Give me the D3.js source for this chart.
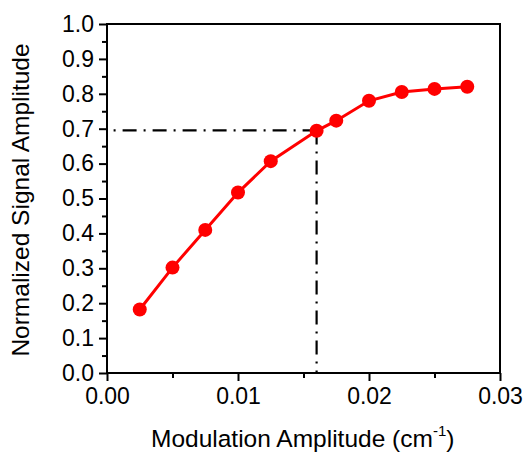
<!DOCTYPE html>
<html>
<head>
<meta charset="utf-8">
<script src="https://cdn.jsdelivr.net/npm/d3@7"></script>
<style>
  body { margin: 0; background: #fff; }
  text { font-family: "Liberation Sans", Arial, sans-serif; fill: #000; }
</style>
</head>
<body>
<svg id="chart" width="525" height="454"></svg>
<script>
// data
const modAmp = [0.0025, 0.005, 0.0075, 0.01, 0.0125, 0.016, 0.0175, 0.02, 0.0225, 0.025, 0.0275];
const signal = [0.182, 0.302, 0.410, 0.517, 0.607, 0.694, 0.723, 0.780, 0.805, 0.814, 0.820];
const xTicks = [0, 0.01, 0.02, 0.03];
const yTicks = [0, 0.1, 0.2, 0.3, 0.4, 0.5, 0.6, 0.7, 0.8, 0.9, 1.0];
const marker = { x: 0.016, y: 0.695 };

const margin = { top: 24, right: 25, bottom: 81, left: 107 };
const W = 525, H = 454;
const width = W - margin.left - margin.right;
const height = H - margin.top - margin.bottom;

const svg = d3.select("#chart");
const g = svg.append("g").attr("transform", `translate(${margin.left},${margin.top})`);

const x = d3.scaleLinear().domain([0, 0.03]).range([0, width]);
const y = d3.scaleLinear().domain([0, 1]).range([height, 0]);

// minor ticks
g.append("g")
  .attr("transform", `translate(0,${height})`)
  .call(d3.axisBottom(x).tickValues(d3.range(0.005, 0.03, 0.01)).tickSize(5).tickFormat(""))
  .call(a => a.select(".domain").remove())
  .selectAll("line").attr("stroke-width", 2);

g.append("g")
  .call(d3.axisLeft(y).tickValues(d3.range(0.05, 1, 0.1)).tickSize(5).tickFormat(""))
  .call(a => a.select(".domain").remove())
  .selectAll("line").attr("stroke-width", 2);

// major axes
const xAxis = g.append("g")
  .attr("transform", `translate(0,${height})`)
  .call(d3.axisBottom(x).tickValues(xTicks).tickSize(8).tickPadding(7).tickFormat(d3.format(".2f")));
xAxis.attr("font-size", 23).attr("font-family", null);
xAxis.select(".domain").remove();
xAxis.selectAll("line").attr("stroke-width", 2);

const yAxis = g.append("g")
  .call(d3.axisLeft(y).tickValues(yTicks).tickSize(8).tickPadding(5).tickFormat(d3.format(".1f")));
yAxis.attr("font-size", 23).attr("font-family", null);
yAxis.select(".domain").remove();
yAxis.selectAll("line").attr("stroke-width", 2);

// frame
g.append("rect")
  .attr("width", width).attr("height", height)
  .attr("fill", "none").attr("stroke", "#000").attr("stroke-width", 2);

// dash-dot guide lines
const guide = d3.line().x(d => x(d[0])).y(d => y(d[1]));
g.append("path")
  .attr("d", guide([[marker.x, marker.y], [0, marker.y]]))
  .attr("fill", "none").attr("stroke", "#000").attr("stroke-width", 2.2)
  .attr("stroke-dasharray", "14,7,2,7");
g.append("path")
  .attr("d", guide([[marker.x, marker.y], [marker.x, 0]]))
  .attr("fill", "none").attr("stroke", "#000").attr("stroke-width", 2.2)
  .attr("stroke-dasharray", "14,7,2,7");

// data line and points
const pts = modAmp.map((v, i) => [v, signal[i]]);
g.append("path")
  .attr("d", d3.line().x(d => x(d[0])).y(d => y(d[1]))(pts))
  .attr("fill", "none").attr("stroke", "#ff0000").attr("stroke-width", 3);

g.selectAll(".dot")
  .data(pts)
  .join("circle")
    .attr("class", "dot")
    .attr("cx", d => x(d[0]))
    .attr("cy", d => y(d[1]))
    .attr("r", 7)
    .attr("fill", "#ff0000");

// axis titles
const xt = svg.append("text")
  .attr("x", 151)
  .attr("y", 447)
  .attr("font-size", 24.5);
xt.append("tspan").text("Modulation Amplitude (cm");
xt.append("tspan").attr("font-size", 15).attr("dy", -11).text("-1");
xt.append("tspan").attr("dy", 11).text(")");

svg.append("text")
  .attr("transform", `translate(29,200) rotate(-90)`)
  .attr("text-anchor", "middle")
  .attr("font-size", 24.5)
  .text("Normalized Signal Amplitude");
</script>
</body>
</html>
